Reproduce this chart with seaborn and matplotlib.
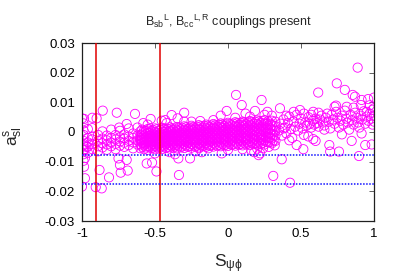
import numpy as np
import pandas as pd
import matplotlib
matplotlib.use("Agg")
import matplotlib.pyplot as plt
import seaborn as sns

# ---------------- data ----------------
# left band (S_psi_phi from -1 to -0.6)
left_x = [-0.99]*5 + [-0.96]*4 + [-0.93]*4 + [-0.89]*4 + [-0.86]*4 + [-0.83]*4 + [-0.80]*4 + \
         [-0.77]*4 + [-0.74]*4 + [-0.71]*4 + [-0.68]*4 + [-0.65]*4 + [-0.62]*4
left_y = [-0.001, -0.003, -0.0045, -0.006, 0.0005,
          -0.002, -0.0035, -0.005, 0.001,
          -0.0025, -0.004, -0.0015, -0.0058,
          -0.003, -0.0048, -0.001, -0.0065,
          -0.0022, -0.0038, -0.0052, 0.0002,
          -0.0028, -0.0042, -0.0012, -0.006,
          -0.002, -0.0035, -0.0048, 0.0008,
          -0.0025, -0.004, -0.0058, -0.001,
          -0.0018, -0.0032, -0.0046, 0.0004,
          -0.0022, -0.0036, -0.005, -0.0008,
          -0.0015, -0.003, -0.0044, 0.0012,
          -0.002, -0.0035, -0.0055, -0.0005,
          -0.0012, -0.0028, -0.0042, 0.0015]

# dense core, column by column
core_cols = [-0.6, -0.575, -0.55, -0.525, -0.5, -0.475, -0.45, -0.425, -0.4, -0.375,
             -0.35, -0.325, -0.3, -0.275, -0.25, -0.225, -0.2, -0.175, -0.15, -0.125,
             -0.1, -0.075, -0.05, -0.025, 0.0, 0.025, 0.05, 0.075, 0.1, 0.125,
             0.15, 0.175, 0.2, 0.225, 0.25, 0.275, 0.3, 0.325]
core_vals = [
    [-0.0055, -0.0042, -0.003, -0.002, -0.001, 0.0002, -0.0025],
    [-0.0058, -0.0045, -0.0033, -0.0022, -0.0012, 0.0005, -0.0038],
    [-0.006, -0.0048, -0.0035, -0.0024, -0.0014, -0.0003, 0.001],
    [-0.0055, -0.0043, -0.003, -0.0018, -0.0008, 0.0004, -0.0036],
    [-0.0058, -0.0046, -0.0034, -0.0022, -0.0011, 0.0, 0.0012],
    [-0.0056, -0.0044, -0.003, -0.002, -0.0009, 0.0003, -0.0038],
    [-0.0057, -0.0045, -0.0032, -0.0021, -0.001, 0.0002, 0.0014],
    [-0.0054, -0.0041, -0.0029, -0.0017, -0.0006, 0.0006, -0.0035],
    [-0.0056, -0.0043, -0.0031, -0.0019, -0.0008, 0.0004, 0.0016],
    [-0.0053, -0.004, -0.0028, -0.0016, -0.0005, 0.0007, -0.0033],
    [-0.0055, -0.0042, -0.003, -0.0018, -0.0006, 0.0006, 0.0017],
    [-0.0052, -0.0039, -0.0027, -0.0015, -0.0003, 0.0009, -0.0031],
    [-0.0054, -0.0041, -0.0028, -0.0016, -0.0004, 0.0008, 0.0019],
    [-0.005, -0.0037, -0.0025, -0.0013, -0.0001, 0.0011, -0.003],
    [-0.0053, -0.004, -0.0027, -0.0015, -0.0003, 0.0009, 0.0021],
    [-0.0049, -0.0036, -0.0024, -0.0012, 0.0, 0.0012, -0.0029],
    [-0.0052, -0.0039, -0.0026, -0.0013, -0.0001, 0.0011, 0.0023],
    [-0.0048, -0.0035, -0.0022, -0.001, 0.0002, 0.0014, -0.0028],
    [-0.005, -0.0037, -0.0024, -0.0011, 0.0001, 0.0013, 0.0025],
    [-0.0047, -0.0034, -0.0021, -0.0008, 0.0004, 0.0016, -0.0027],
    [-0.0049, -0.0036, -0.0023, -0.001, 0.0003, 0.0015, 0.0027],
    [-0.0046, -0.0033, -0.002, -0.0007, 0.0006, 0.0018, -0.0026],
    [-0.0048, -0.0035, -0.0021, -0.0008, 0.0005, 0.0017, 0.0029],
    [-0.0045, -0.0031, -0.0018, -0.0005, 0.0008, 0.002, -0.0024],
    [-0.0047, -0.0033, -0.002, -0.0006, 0.0007, 0.0019, 0.0031],
    [-0.0044, -0.003, -0.0017, -0.0004, 0.0009, 0.0022, -0.0023],
    [-0.0046, -0.0032, -0.0018, -0.0005, 0.0008, 0.0021, 0.0033],
    [-0.0043, -0.0029, -0.0015, -0.0002, 0.0011, 0.0024, -0.0022],
    [-0.0045, -0.0031, -0.0017, -0.0003, 0.001, 0.0023, 0.0035],
    [-0.0042, -0.0028, -0.0014, 0.0, 0.0013, 0.0026, -0.0021],
    [-0.0044, -0.003, -0.0016, -0.0002, 0.0012, 0.0025, 0.0037],
    [-0.0041, -0.0027, -0.0013, 0.0001, 0.0015, 0.0028, -0.002],
    [-0.0043, -0.0029, -0.0015, 0.0, 0.0014, 0.0027, 0.0039],
    [-0.004, -0.0026, -0.0012, 0.0002, 0.0016, 0.003, -0.0019],
    [-0.0042, -0.0028, -0.0013, 0.0001, 0.0015, 0.0029, 0.004],
    [-0.0035, -0.002, -0.0006, 0.0008, 0.0022, 0.0036],
    [-0.0038, -0.0022, -0.0007, 0.0008, 0.0023, 0.0038],
    [-0.003, -0.0012, 0.0004, 0.002, 0.0035],
]

# second layer of the dense core, between the columns above
core2_cols = [-0.5875, -0.5625, -0.5375, -0.5125, -0.4875, -0.4625, -0.4375, -0.4125,
              -0.3875, -0.3625, -0.3375, -0.3125, -0.2875, -0.2625, -0.2375, -0.2125,
              -0.1875, -0.1625, -0.1375, -0.1125, -0.0875, -0.0625, -0.0375, -0.0125,
              0.0125, 0.0375, 0.0625, 0.0875, 0.1125, 0.1375, 0.1625, 0.1875, 0.2125,
              0.2375, 0.2625, 0.2875, 0.3125]
core2_vals = [
    [-0.0050, -0.0037, -0.0027, -0.0016, -0.0005, 0.0008],
    [-0.0052, -0.0040, -0.0029, -0.0018, -0.0007, 0.0004],
    [-0.0050, -0.0038, -0.0026, -0.0014, -0.0003, 0.0009],
    [-0.0052, -0.0040, -0.0028, -0.0016, -0.0005, 0.0006],
    [-0.0051, -0.0039, -0.0025, -0.0014, -0.0003, 0.0009],
    [-0.0050, -0.0038, -0.0026, -0.0015, -0.0004, 0.0008],
    [-0.0049, -0.0036, -0.0024, -0.0012, 0.0000, 0.0011],
    [-0.0050, -0.0037, -0.0025, -0.0013, -0.0002, 0.0010],
    [-0.0048, -0.0035, -0.0023, -0.0011, 0.0001, 0.0012],
    [-0.0049, -0.0036, -0.0024, -0.0012, 0.0000, 0.0012],
    [-0.0047, -0.0034, -0.0022, -0.0010, 0.0002, 0.0014],
    [-0.0048, -0.0035, -0.0022, -0.0010, 0.0002, 0.0014],
    [-0.0046, -0.0033, -0.0020, -0.0008, 0.0004, 0.0016],
    [-0.0047, -0.0034, -0.0021, -0.0009, 0.0003, 0.0015],
    [-0.0045, -0.0032, -0.0019, -0.0007, 0.0005, 0.0017],
    [-0.0046, -0.0032, -0.0019, -0.0007, 0.0006, 0.0018],
    [-0.0044, -0.0031, -0.0017, -0.0005, 0.0007, 0.0019],
    [-0.0045, -0.0031, -0.0018, -0.0005, 0.0007, 0.0020],
    [-0.0043, -0.0029, -0.0016, -0.0003, 0.0009, 0.0021],
    [-0.0044, -0.0030, -0.0016, -0.0004, 0.0009, 0.0022],
    [-0.0042, -0.0028, -0.0014, -0.0001, 0.0011, 0.0023],
    [-0.0043, -0.0029, -0.0015, -0.0002, 0.0011, 0.0024],
    [-0.0041, -0.0027, -0.0013, 0.0000, 0.0013, 0.0025],
    [-0.0042, -0.0028, -0.0013, 0.0000, 0.0013, 0.0026],
    [-0.0040, -0.0026, -0.0012, 0.0002, 0.0015, 0.0027],
    [-0.0041, -0.0026, -0.0012, 0.0002, 0.0015, 0.0028],
    [-0.0039, -0.0024, -0.0010, 0.0004, 0.0017, 0.0030],
    [-0.0040, -0.0025, -0.0010, 0.0004, 0.0017, 0.0030],
    [-0.0038, -0.0023, -0.0008, 0.0006, 0.0019, 0.0032],
    [-0.0039, -0.0024, -0.0009, 0.0005, 0.0019, 0.0032],
    [-0.0037, -0.0022, -0.0007, 0.0007, 0.0021, 0.0034],
    [-0.0038, -0.0023, -0.0008, 0.0007, 0.0021, 0.0034],
    [-0.0036, -0.0021, -0.0006, 0.0009, 0.0023, 0.0036],
    [-0.0037, -0.0022, -0.0006, 0.0009, 0.0023, 0.0037],
    [-0.0033, -0.0018, -0.0003, 0.0012, 0.0026],
    [-0.0034, -0.0018, -0.0002, 0.0013, 0.0028],
    [-0.0028, -0.0010, 0.0006, 0.0022],
]

# ring of points around the core
edge_x = [-0.55, -0.5, -0.42, -0.4, -0.3, -0.22, -0.1, 0.0, 0.05, 0.1, 0.15, 0.2, 0.25,
          0.28, 0.3, 0.32, 0.27, 0.12, -0.05, -0.18, 0.18, 0.22, 0.21, 0.16]
edge_y = [0.0025, -0.0072, 0.003, -0.0068, 0.0035, -0.0065, 0.004, -0.006, 0.0048, -0.0058,
          0.0052, -0.0056, 0.0058, -0.005, 0.0055, -0.0045, 0.0068, 0.0062, 0.0055, -0.0068,
          -0.0068, -0.0072, -0.0078, -0.0062]

# right band (S_psi_phi from 0.35 to 1)
right_x = [0.35, 0.36, 0.37, 0.38, 0.39, 0.40, 0.41, 0.42, 0.43, 0.44, 0.45, 0.46, 0.47, 0.48,
           0.49, 0.50, 0.51, 0.52, 0.53, 0.54, 0.55, 0.56, 0.57, 0.58, 0.59, 0.60, 0.61, 0.62,
           0.63, 0.64, 0.65, 0.66, 0.67, 0.68, 0.69, 0.70, 0.71, 0.72, 0.73, 0.74, 0.75, 0.76,
           0.77, 0.78, 0.79, 0.80, 0.81, 0.82, 0.83, 0.84, 0.85, 0.86, 0.87, 0.88, 0.89, 0.90,
           0.91, 0.92, 0.93, 0.94, 0.95, 0.96, 0.97, 0.98, 0.99, 1.0, 1.0, 0.99, 0.52, 0.45,
           0.40, 0.38, 0.62, 0.57, 0.66, 0.73, 0.86, 0.78, 0.55, 0.42, 0.95, 0.97]
right_y = [0.0005, 0.0028, -0.0012, 0.0042, 0.0015, -0.0005, 0.003, 0.0052, 0.001, -0.002,
           0.0035, 0.0018, 0.0058, 0.0005, 0.0028, 0.0045, 0.0012, -0.001, 0.0032, 0.0022,
           0.005, 0.0028, 0.0015, 0.0038, 0.0025, 0.0045, 0.003, 0.0018, 0.0042, 0.0055,
           0.0032, 0.0022, 0.0048, 0.0062, 0.0035, 0.0012, 0.0058, 0.0042, 0.0028, 0.0068,
           0.0048, 0.0015, 0.0038, 0.0055, 0.0025, 0.0072, 0.0045, 0.0032, 0.0008, 0.0058,
           0.004, 0.0025, 0.0065, 0.0048, 0.0032, 0.0015, 0.0055, 0.0042, 0.007, 0.0028,
           0.0052, 0.0038, 0.0062, 0.0045, 0.0075, 0.0055, 0.0035, 0.0025, 0.0062, 0.0068,
           0.0055, 0.0012, 0.0065, 0.0058, 0.0008, 0.0085, 0.0082, -0.0008, -0.0015, -0.0028,
           0.0068, 0.009]

# outliers above the band
up_x = [-0.858, -0.762, -0.637, -0.929, -0.986, -0.53, -0.90, -0.58, -0.745, -0.93, -0.386,
        -0.30, -0.345, -0.25, -0.009, -0.19, -0.43, 0.23, 0.094, 0.356, 0.185, 0.493, 0.888,
        0.745, 0.80, 0.618, 0.854, 0.87, 0.915, 0.96, 1.0, 0.91, 1.0, 0.74, 0.813, 0.584,
        0.055, -1.0, -0.454, -0.99, -0.694]
up_y = [0.0072, 0.0065, 0.0061, 0.0048, 0.0044, 0.0044, 0.0046, 0.003, 0.0015, 0.0013, 0.0057,
        0.0065, 0.0046, 0.0035, 0.0071, 0.0037, 0.004, 0.0108, 0.0091, 0.008, 0.0071, 0.0074,
        0.0217, 0.0164, 0.0142, 0.0133, 0.0125, 0.0119, 0.0108, 0.0111, 0.0116, 0.0091, 0.008,
        0.0089, 0.0085, 0.0068, 0.0125, 0.0046, 0.0038, 0.0029, 0.0027]

# outliers below the band
low_x = [-1.0, -0.906, -0.865, -0.815, -0.88, -0.735, -0.687, -0.74, -0.694, -0.75, -0.557,
         -0.52, -0.49, -0.336, -0.26, -0.986, -0.99, -0.98, -0.98, -0.363, -0.34, -0.2,
         -0.135, -0.043, 0.368, 0.31, 0.425, 0.24, 0.47, 0.584, 0.694, 0.847, 0.94, 0.984,
         0.70, 0.76, 0.897, 0.915, 0.516, 0.6, -0.99, -0.985, -0.99, -0.97, -0.96]
low_y = [-0.0184, -0.0186, -0.019, -0.0153, -0.0128, -0.0137, -0.013, -0.0111, -0.0094, -0.0089,
         -0.0106, -0.0103, -0.0133, -0.0145, -0.0089, -0.0117, -0.0097, -0.0156, -0.0088,
         -0.0075, -0.0089, -0.0055, -0.0055, -0.0072, -0.0092, -0.0148, -0.0171, -0.0055,
         -0.0044, -0.0024, -0.0044, -0.003, -0.0044, -0.0042, -0.0066, -0.0066, -0.0081,
         -0.0005, -0.0058, -0.003, -0.004, -0.006, -0.0075, -0.005, -0.007]

# reference lines
vlines_x = [-0.906, -0.469]
hlines_y = [-0.0078, -0.0176]

x_ticks = [-1, -0.5, 0, 0.5, 1]
x_tick_labels = ["-1", "-0.5", "0", "0.5", "1"]
y_ticks = [-0.03, -0.02, -0.01, 0, 0.01, 0.02, 0.03]
y_tick_labels = ["-0.03", "-0.02", "-0.01", "0", "0.01", "0.02", "0.03"]

# ---------------- assemble ----------------
core_x = [c for c, vals in zip(core_cols, core_vals) for _ in vals]
core_y = [v for vals in core_vals for v in vals]
core2_x = [c for c, vals in zip(core2_cols, core2_vals) for _ in vals]
core2_y = [v for vals in core2_vals for v in vals]

df = pd.DataFrame({
    "S": left_x + core_x + core2_x + edge_x + right_x + up_x + low_x,
    "a": left_y + core_y + core2_y + edge_y + right_y + up_y + low_y,
})

# ---------------- style ----------------
sns.set_style("white")
plt.rcParams["font.family"] = ["Liberation Sans", "DejaVu Sans"]
plt.rcParams["mathtext.fontset"] = "custom"
plt.rcParams["mathtext.rm"] = "Liberation Sans"
plt.rcParams["mathtext.it"] = "Liberation Sans"
plt.rcParams["mathtext.bf"] = "Liberation Sans:bold"

fig = plt.figure(figsize=(3.99, 2.79), dpi=100)
ax = fig.add_axes([82/399, 1 - 221/279, 292/399, 178/279])

sns.scatterplot(data=df, x="S", y="a", ax=ax, marker="o", s=44,
                facecolor="none", edgecolor="#ff00ff", linewidth=0.6,
                legend=False, zorder=2)

for xv in vlines_x:
    ax.axvline(xv, color="#e00000", lw=1.1, zorder=3)
for yv in hlines_y:
    ax.axhline(yv, color="#1010ff", lw=1.1, ls=(0, (1, 1)), zorder=3)

ax.set_xlim(-1, 1)
ax.set_ylim(-0.03, 0.03)
ax.set_xticks(x_ticks)
ax.set_xticklabels(x_tick_labels)
ax.set_yticks(y_ticks)
ax.set_yticklabels(y_tick_labels)
ax.tick_params(direction="in", length=3.5, width=0.7, color="#606060",
               top=True, right=True, labelsize=9.5, pad=5, labelcolor="black")

for sp in ax.spines.values():
    sp.set_visible(True)
    sp.set_color("#202020")
    sp.set_linewidth(0.9)

ax.set_xlabel(r"S$_{\psi\phi}$", fontsize=12.5)
ax.set_ylabel(r"a$^{\mathregular{s}}_{\mathregular{sl}}$", fontsize=12.5)
ax.xaxis.set_label_coords(0.5, -0.175)
ax.yaxis.set_label_coords(-0.195, 0.48)

ax.text(0.5, 1.118,
        r"B$_{\mathregular{sb}}$$^{\mathregular{L}}$, B$_{\mathregular{cc}}$$^{\mathregular{L,R}}$ couplings present",
        transform=ax.transAxes, ha="center", va="center", fontsize=9)

fig.savefig("out.png", dpi=100)
